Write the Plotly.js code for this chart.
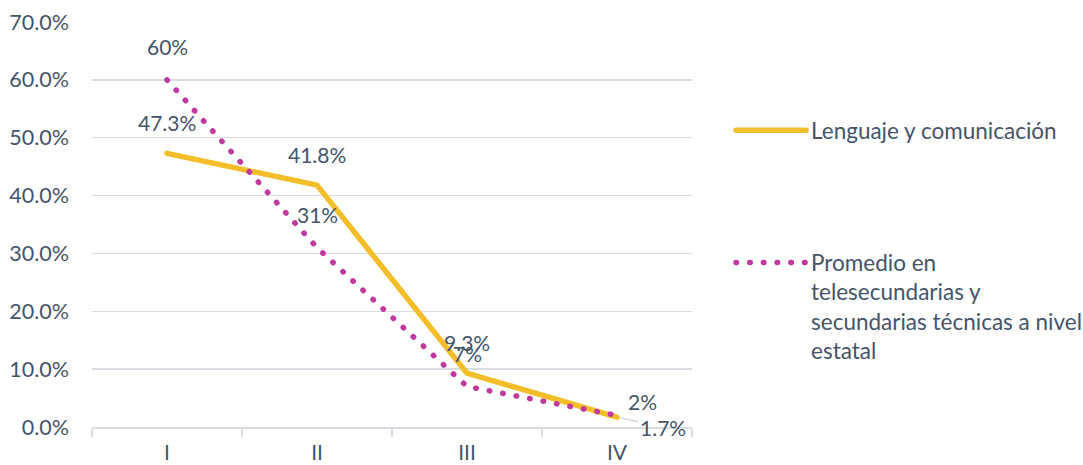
<!DOCTYPE html>
<html>
<head>
<meta charset="utf-8">
<script src="https://cdn.plot.ly/plotly-3.0.1.min.js"></script>
<style>
  html, body { margin: 0; padding: 0; background: #fff; }
  #chart { width: 1083px; height: 465px; }
  path.js-line { stroke-linecap: round; }
</style>
</head>
<body>
<div id="chart"></div>
<script>
const categories = ["I", "II", "III", "IV"];
const lenguaje = [47.3, 41.8, 9.3, 1.7];
const promedio = [60, 31, 7, 2];
const seriesNames = [
  "Lenguaje y comunicación",
  "Promedio en<br>telesecundarias y<br>secundarias técnicas a nivel<br>estatal"
];
const yTicks = [0, 10, 20, 30, 40, 50, 60, 70];

const textColor = "#44546A";
const gridColor = "#D9DDE3";
const fontFamily = "Lato, 'Open Sans', sans-serif";

const traces = [
  {
    x: categories, y: lenguaje, name: seriesNames[0], type: "scatter", mode: "lines",
    line: { color: "#F4BE2A", width: 5.5 }, legendgroup: "a"
  },
  {
    x: categories, y: promedio, name: seriesNames[1], type: "scatter", mode: "lines",
    line: { color: "#C0399F", width: 5.5, dash: "0.5px,13.2px" }, legendgroup: "b"
  }
];

function fmt(v) { return v + "%"; }

const labelFont = { family: fontFamily, size: 21, color: textColor };
const annotations = [];
lenguaje.forEach((v, i) => {
  const a = { x: categories[i], y: v, text: fmt(v), showarrow: false, yshift: 31, font: labelFont };
  if (i === 3) {
    a.showarrow = true; a.ax = 46; a.ay = 10; a.arrowhead = 0; a.arrowwidth = 1;
    a.arrowcolor = "#BFC5CE"; a.yshift = 0; a.standoff = 2;
  }
  annotations.push(a);
});
promedio.forEach((v, i) => {
  const a = { x: categories[i], y: v, text: fmt(v), showarrow: false, yshift: 33, font: labelFont };
  if (i === 3) { a.xshift = 25; a.yshift = 14; }
  annotations.push(a);
});

const layout = {
  width: 1083, height: 465,
  margin: { l: 92, r: 391, t: 22, b: 38 },
  paper_bgcolor: "#fff", plot_bgcolor: "#fff",
  font: { family: fontFamily, size: 21, color: textColor },
  showlegend: true,
  legend: {
    xref: "container", yref: "paper",
    x: 0.675, xanchor: "left", y: 0.785, yanchor: "top",
    font: { family: fontFamily, size: 22.5, color: textColor },
    tracegroupgap: 100, valign: "top", itemwidth: 70,
    bgcolor: "rgba(0,0,0,0)"
  },
  xaxis: {
    type: "category", range: [-0.5, 3.5],
    showgrid: false, zeroline: false,
    showline: true, linecolor: gridColor, linewidth: 1.5,
    ticks: "outside", tickson: "boundaries", ticklen: 8, tickcolor: gridColor, tickwidth: 1.5,
    tickfont: { family: fontFamily, size: 21, color: textColor }, ticklabelstandoff: 6
  },
  yaxis: {
    range: [0, 70], tickvals: yTicks, ticktext: yTicks.map(v => v.toFixed(1) + "%"),
    showgrid: true, gridcolor: gridColor, gridwidth: 1.5,
    zeroline: false, showline: false,
    tickfont: { family: fontFamily, size: 21.5, color: textColor }, ticklabelstandoff: 22
  },
  annotations: annotations
};

Plotly.newPlot("chart", traces, layout, { staticPlot: true, displayModeBar: false });
</script>
</body>
</html>
